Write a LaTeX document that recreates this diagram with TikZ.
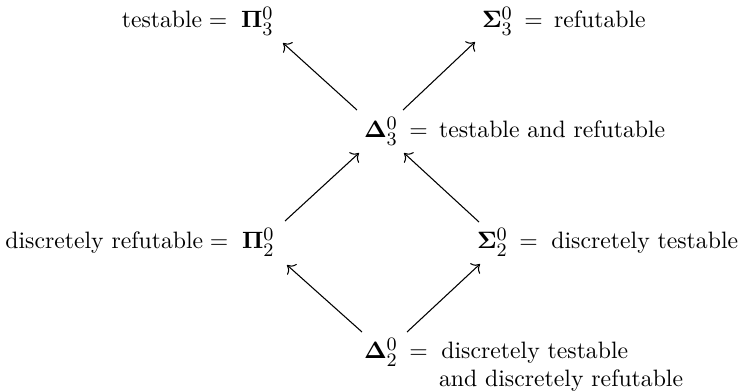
\documentclass[tikz,border=0pt]{standalone}
\usetikzlibrary{arrows.meta}
\DeclareMathSizes{10}{10}{8}{6}
\begin{document}
\begin{tikzpicture}[x=0.4217pt,y=-0.4217pt,
  sym/.style={anchor=base west,inner sep=0pt,outer sep=0pt},
  lbl/.style={inner sep=0pt,outer sep=0pt},
  arr/.style={-{To[length=3pt,width=6pt]},line width=0.45pt}]
\useasboundingbox (0,0) rectangle (747,392);
% symbol nodes
\node[sym] (P3) at (241,28) {$\mathbf{\Pi}^0_3$};
\node[sym] (S3) at (482,28) {$\mathbf{\Sigma}^0_3$};
\node[sym] (D3) at (364,138) {$\mathbf{\Delta}^0_3$};
\node[sym] (P2) at (242,249) {$\mathbf{\Pi}^0_2$};
\node[sym] (S2) at (477,249) {$\mathbf{\Sigma}^0_2$};
\node[sym] (D2) at (364,359) {$\mathbf{\Delta}^0_2$};
% texts
\node[lbl,anchor=base east] (P3t) at ([xshift=-3pt]P3.base west) {testable${}={}$};
\node[lbl,anchor=base west] (S3t) at (S3.base east) {\hspace{2pt}${}={}$\hspace{2pt}refutable};
\node[lbl,anchor=base west] (D3t) at (D3.base east) {\hspace{2pt}${}={}$\hspace{2pt}testable and refutable};
\node[lbl,anchor=base east] (P2t) at ([xshift=-3pt]P2.base west) {discretely refutable${}={}$};
\node[lbl,anchor=base west] (S2t) at (S2.base east) {\hspace{2pt}${}={}$\hspace{3pt}discretely testable};
\node[lbl,anchor=base west] (D2t) at (D2.base east) {\hspace{2pt}${}={}$\hspace{3pt}\begin{tabular}[t]{@{}l@{}}discretely testable\\[-0.6pt]\hspace{-1pt}and discretely refutable\end{tabular}};
% arrows
\draw[arr] ([shift={(-7,-28)}]D3.base west) -- ([shift={(42,15)}]P3.base west);
\draw[arr] ([shift={(39,-28)}]D3.base west) -- ([shift={(-7,14)}]S3.base west);
\draw[arr] ([shift={(43,-28)}]P2.base west) -- ([shift={(-5,15)}]D3.base west);
\draw[arr] ([shift={(2,-27)}]S2.base west) -- ([shift={(40,15)}]D3.base west);
\draw[arr] ([shift={(-2,-27)}]D2.base west) -- ([shift={(45,16)}]P2.base west);
\draw[arr] ([shift={(43,-27)}]D2.base west) -- ([shift={(3,15)}]S2.base west);
\end{tikzpicture}
\end{document}
